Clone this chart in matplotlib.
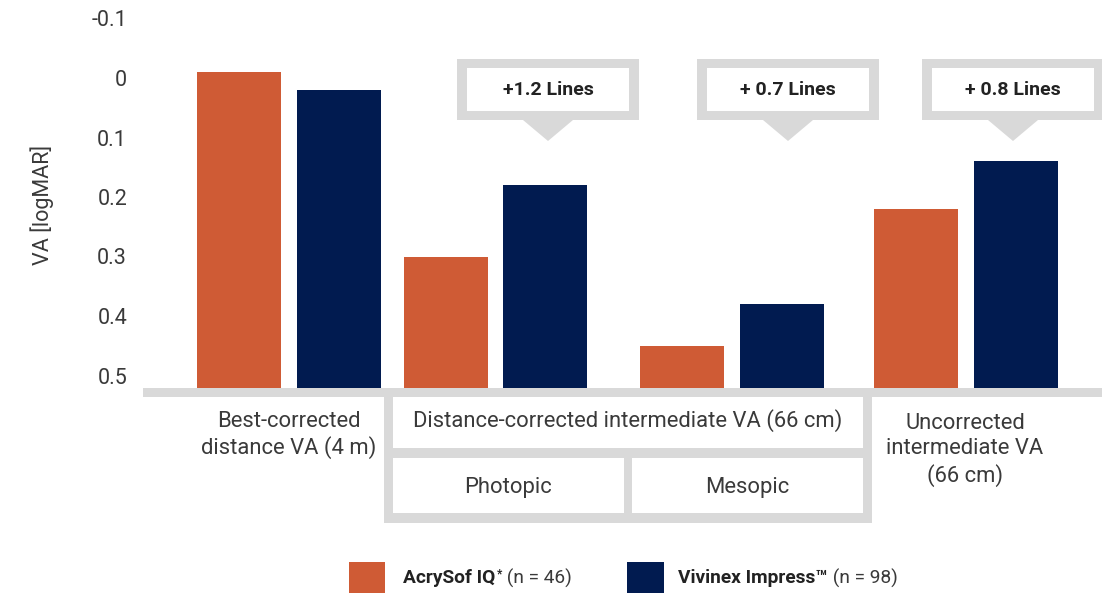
import matplotlib
matplotlib.use("Agg")
import matplotlib.pyplot as plt
from matplotlib.patches import Rectangle, Polygon

# ---------------- data ----------------
categories = ["Best-corrected distance", "DCIVA photopic", "DCIVA mesopic", "UCIVA"]
acrysof = [-0.01, 0.30, 0.45, 0.22]
vivinex = [0.02, 0.18, 0.38, 0.14]
yticks = [-0.1, 0, 0.1, 0.2, 0.3, 0.4, 0.5]
ytick_labels = ["-0.1", "0", "0.1", "0.2", "0.3", "0.4", "0.5"]
callout_labels = ["+1.2 Lines", "+ 0.7 Lines", "+ 0.8 Lines"]
series_names = ["AcrySof IQ", "Vivinex Impress\u2122"]
series_n = [" (n = 46)", " (n = 98)"]

# ---------------- style ----------------
ORANGE = "#CF5B35"
NAVY = "#011B50"
GRAY = "#D9D9D9"
TXT = "#3A3A3A"
FONT = ["Roboto", "DejaVu Sans"]
plt.rcParams["font.family"] = FONT

W, H = 1102, 593
fig = plt.figure(figsize=(W / 100, H / 100), dpi=100)

# decoration axes in pixel coordinates
dec = fig.add_axes([0, 0, 1, 1], zorder=0)
dec.set_xlim(0, W)
dec.set_ylim(H, 0)
dec.axis("off")

# main bar axes
base_px = 388
left_px = 143
y_base = (base_px - 78) / 595.0
y_top = -78 / 595.0
ax = fig.add_axes([left_px / W, (H - base_px) / H, (W - left_px) / W, base_px / H], zorder=1)
ax.patch.set_alpha(0)
ax.set_xlim(left_px / 100, W / 100)
ax.set_ylim(y_base, y_top)
for s in ax.spines.values():
    s.set_visible(False)

group_x = [2.8875, 4.955, 7.3175, 9.66]
off = 0.4975
bw = 0.84
ax.bar([g - off for g in group_x], [v - y_base for v in acrysof], bottom=y_base,
       width=bw, color=ORANGE)
ax.bar([g + off for g in group_x], [v - y_base for v in vivinex], bottom=y_base,
       width=bw, color=NAVY)

ax.set_xticks([])
ax.set_yticks(yticks)
ax.set_yticklabels(ytick_labels, fontsize=15.5, color=TXT)
ax.tick_params(axis="y", length=0, pad=11.5)
fig.text(42 / W, 1 - 205 / H, "VA [logMAR]", rotation=90, ha="center", va="center",
         fontsize=15.5, color=TXT)

# baseline band
dec.add_patch(Rectangle((left_px, 388), W - left_px, 9, color=GRAY, lw=0))

# bracket structure
dec.add_patch(Rectangle((384, 397), 488, 126, color=GRAY, lw=0))
dec.add_patch(Rectangle((393, 397), 470, 51, color="white", lw=0))
dec.add_patch(Rectangle((393, 458), 231, 55, color="white", lw=0))
dec.add_patch(Rectangle((632, 458), 231, 55, color="white", lw=0))

fs_lab = 15.8
dec.text(289, 435, "Best-corrected\ndistance VA (4 m)", ha="center", va="center",
         fontsize=fs_lab, color=TXT, linespacing=1.25)
dec.text(628, 421, "Distance-corrected intermediate VA (66 cm)", ha="center", va="center",
         fontsize=fs_lab, color=TXT)
dec.text(508, 488, "Photopic", ha="center", va="center", fontsize=fs_lab, color=TXT)
dec.text(747, 488, "Mesopic", ha="center", va="center", fontsize=fs_lab, color=TXT)
dec.text(965, 450, "Uncorrected\nintermediate VA\n(66 cm)", ha="center", va="center",
         fontsize=fs_lab, color=TXT, linespacing=1.25)

# callouts
callout_cx = [548, 788, 1013]
cw, ch, bd = 182, 61, 9
for cx, lab in zip(callout_cx, callout_labels):
    x0 = cx - cw / 2
    dec.add_patch(Rectangle((x0, 59), cw, ch, color=GRAY, lw=0))
    dec.add_patch(Rectangle((x0 + bd + 1, 59 + bd), cw - 2 * bd - 2, ch - 2 * bd, color="white", lw=0))
    dec.add_patch(Polygon([(cx - 25, 120), (cx + 25, 120), (cx, 141)], closed=True,
                          color=GRAY, lw=0))
    dec.text(cx, 90, lab, ha="center", va="center", fontsize=14, fontweight="bold",
             color="#222222")

# legend
dec.add_patch(Rectangle((349, 562), 36, 31, color=ORANGE, lw=0))
dec.add_patch(Rectangle((627, 562), 37, 31, color=NAVY, lw=0))
t1 = dec.text(403, 578, series_names[0], ha="left", va="center", fontsize=13.8,
              fontweight="bold", color="#222222")
t1s = dec.annotate("*", xy=(1, 0.75), xycoords=t1, xytext=(1, 0), textcoords="offset points",
                   ha="left", va="center", fontsize=8.5, fontweight="bold", color="#222222")
dec.annotate(series_n[0], xy=(1, 0.5), xycoords=(t1s, t1), xytext=(0, 0),
             textcoords="offset points", ha="left", va="center", fontsize=13.8, color=TXT)
t2 = dec.text(678, 578, series_names[1], ha="left", va="center", fontsize=13.8,
              fontweight="bold", color="#222222")
dec.annotate(series_n[1], xy=(1, 0.5), xycoords=t2, xytext=(0, 0), textcoords="offset points",
             ha="left", va="center", fontsize=13.8, color=TXT)

fig.savefig("out.png", dpi=100)
